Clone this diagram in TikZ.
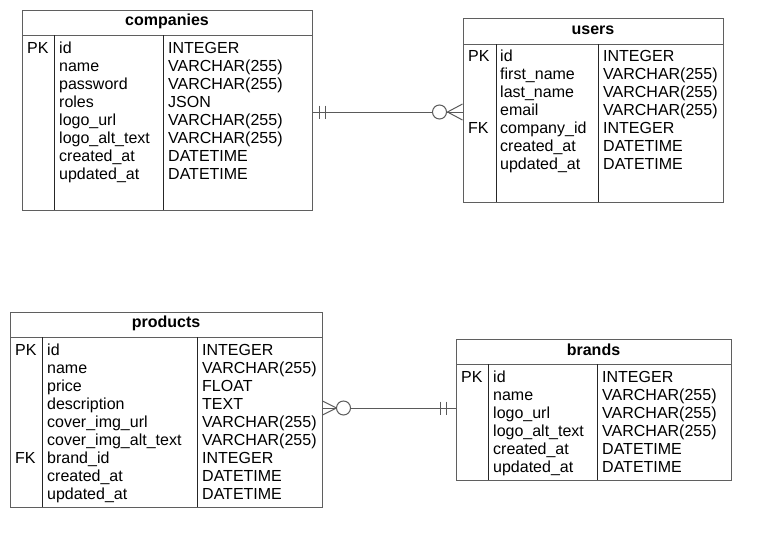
\documentclass[tikz,border=0pt]{standalone}
\usepackage{fontspec}
\setmainfont{Liberation Sans}
\definecolor{edgegray}{RGB}{95,95,95}
\definecolor{relgray}{RGB}{90,90,90}

\tikzset{
	tablebox/.style={draw=edgegray, line width=1pt, rectangle, inner sep=0pt},
	divider/.style={draw=black!85, line width=1pt},
	headline/.style={draw=edgegray, line width=1pt},
	cell/.style={inner sep=0pt, anchor=base west},
	title/.style={inner sep=0pt, font=\fontsize{16}{18}\selectfont\bfseries},
	rel/.style={draw=relgray, line width=1pt},
	optcircle/.style={circle, draw=relgray, line width=1pt, fill=white, minimum size=14pt, inner sep=0pt}
}

\begin{document}
\begin{tikzpicture}[x=1pt, y=-1pt, font=\fontsize{16}{18}\selectfont]
		\useasboundingbox (0,0) rectangle (771,547);
		
		% draw table companies
		\node[tablebox, minimum width=290pt, minimum height=200pt] (companies) at (167,110) {};
		\draw[headline] (22,35) -- (312,35);
		\foreach \x in {54,163}
		\draw[divider] (\x,35) -- (\x,210);
		\node[title] (companies-title) at (167,21) {companies};
		\node[cell] (companies-pk) at (27,53) {PK};
		\foreach \n/\t [count=\i from 0] in {id/INTEGER, name/VARCHAR(255), password/VARCHAR(255), roles/JSON, logo\_url/VARCHAR(255), logo\_alt\_text/VARCHAR(255), created\_at/DATETIME, updated\_at/DATETIME}
		\node[cell] (companies-n\i) at (59,53+18*\i) {\n} node[cell] (companies-t\i) at (168,53+18*\i) {\t};
		
		% draw table users
		\node[tablebox, minimum width=260pt, minimum height=184pt] (users) at (593,110) {};
		\draw[headline] (463,44) -- (723,44);
		\foreach \x in {496,598}
		\draw[divider] (\x,44) -- (\x,202);
		\node[title] (users-title) at (593,30) {users};
		\node[cell] (users-pk) at (468,61) {PK};
		\node[cell] (users-fk) at (468,133) {FK};
		\foreach \n/\t [count=\i from 0] in {id/INTEGER, first\_name/VARCHAR(255), last\_name/VARCHAR(255), email/VARCHAR(255), company\_id/INTEGER, created\_at/DATETIME, updated\_at/DATETIME}
		\node[cell] (users-n\i) at (500,61+18*\i) {\n} node[cell] (users-t\i) at (603,61+18*\i) {\t};
		
		% draw table products
		\node[tablebox, minimum width=312pt, minimum height=195pt] (products) at (166,409.5) {};
		\draw[headline] (10,337) -- (322,337);
		\foreach \x in {42,197}
		\draw[divider] (\x,337) -- (\x,507);
		\node[title] (products-title) at (166,323) {products};
		\node[cell] (products-pk) at (15,355) {PK};
		\node[cell] (products-fk) at (15,463) {FK};
		\foreach \n/\t [count=\i from 0] in {id/INTEGER, name/VARCHAR(255), price/FLOAT, description/TEXT, cover\_img\_url/VARCHAR(255), cover\_img\_alt\_text/VARCHAR(255), brand\_id/INTEGER, created\_at/DATETIME, updated\_at/DATETIME}
		\node[cell] (products-n\i) at (47,355+18*\i) {\n} node[cell] (products-t\i) at (202,355+18*\i) {\t};
		
		% draw table brands
		\node[tablebox, minimum width=275pt, minimum height=141pt] (brands) at (593.5,409.5) {};
		\draw[headline] (456,364) -- (731,364);
		\foreach \x in {488,597}
		\draw[divider] (\x,364) -- (\x,480);
		\node[title] (brands-title) at (593.5,350) {brands};
		\node[cell] (brands-pk) at (461,382) {PK};
		\foreach \n/\t [count=\i from 0] in {id/INTEGER, name/VARCHAR(255), logo\_url/VARCHAR(255), logo\_alt\_text/VARCHAR(255), created\_at/DATETIME, updated\_at/DATETIME}
		\node[cell] (brands-n\i) at (493,382+18*\i) {\n} node[cell] (brands-t\i) at (602,382+18*\i) {\t};
		
		% draw relation companies - users (one to zero or many)
		\coordinate (cu-a) at ([yshift=-2pt]companies.east);
		\coordinate (cu-b) at ([yshift=-2pt]users.west);
		\draw[rel] (cu-a) -- (cu-b);
		\foreach \d in {7,13}
		\draw[rel] ([xshift=\d pt, yshift=6.5pt]cu-a) -- ([xshift=\d pt, yshift=-6.5pt]cu-a);
		\draw[rel] ([yshift=8pt]cu-b) -- ([xshift=-15pt]cu-b) -- ([yshift=-8pt]cu-b);
		\node[optcircle] (cu-o) at ([xshift=-23pt]cu-b) {};
		
		% draw relation products - brands (zero or many to one)
		\coordinate (pb-a) at ([yshift=1.5pt]products.east);
		\coordinate (pb-b) at ([yshift=1.5pt]brands.west);
		\draw[rel] (pb-a) -- (pb-b);
		\foreach \d in {9,15}
		\draw[rel] ([xshift=-\d pt, yshift=6.5pt]pb-b) -- ([xshift=-\d pt, yshift=-6.5pt]pb-b);
		\draw[rel] ([yshift=7pt]pb-a) -- ([xshift=14pt]pb-a) -- ([yshift=-7pt]pb-a);
		\node[optcircle] (pb-o) at ([xshift=21pt]pb-a) {};
		
\end{tikzpicture}
\end{document}
